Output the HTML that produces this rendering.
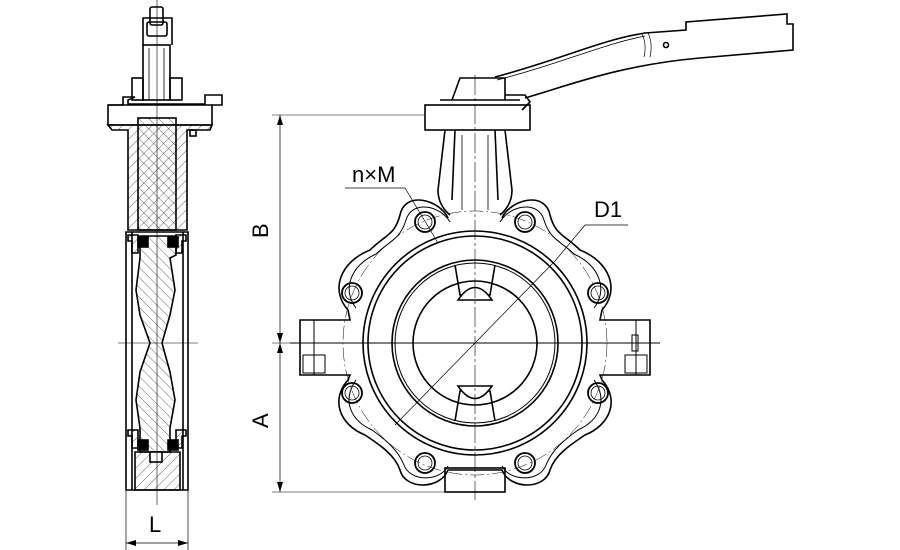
<!DOCTYPE html>
<html><head><meta charset="utf-8"><style>
html,body{margin:0;padding:0;background:#fff;width:900px;height:550px;overflow:hidden}
svg{display:block}
text{font-family:"Liberation Sans",sans-serif;fill:#000}
</style></head><body>
<svg width="900" height="550" viewBox="0 0 900 550" xmlns="http://www.w3.org/2000/svg">
<defs>
<pattern id="h" width="7" height="7" patternUnits="userSpaceOnUse" patternTransform="rotate(45)">
<line x1="0" y1="0" x2="0" y2="7" stroke="#000" stroke-width="0.6"/></pattern>
<pattern id="h2" width="7" height="7" patternUnits="userSpaceOnUse" patternTransform="rotate(-45)">
<line x1="0" y1="0" x2="0" y2="7" stroke="#000" stroke-width="0.6"/></pattern>
</defs>
<g fill="none" stroke="#000" stroke-width="1.6">
<!-- SIDE VIEW -->
<rect x="150" y="7" width="13" height="18" rx="2"/>
<path d="M143 45 V18 H172 V45"/>
<rect x="147" y="22" width="20" height="14" rx="2"/>
<rect x="143" y="45" width="27" height="55"/>
<line x1="149" y1="48" x2="149" y2="100" stroke-width="0.8"/>
<line x1="164" y1="48" x2="164" y2="100" stroke-width="0.8"/>
<rect x="132" y="78" width="11" height="22"/>
<rect x="170" y="78" width="12" height="22"/>
<path d="M108 125 V105 H123 V97 H135 L128 100 V104 H205 V95 H222 V105 H212 V125 Z"/>
<line x1="108" y1="105" x2="212" y2="105"/>
<path d="M108 125 H212 L210 130 H187 V230 H128 V130 H112 Z" fill="url(#h)"/>
<rect x="138" y="118" width="38" height="112" fill="url(#h2)"/>
<rect x="190" y="130" width="6" height="6"/>
<path d="M126 232 H188 V490 H126 Z"/>
<line x1="132" y1="232" x2="132" y2="490"/>
<line x1="183" y1="232" x2="183" y2="490"/>
<path d="M128 235 h10 v18 h-6 v-12 h-4z" fill="url(#h)"/>
<path d="M186 235 h-10 v18 h6 v-12 h4z" fill="url(#h)"/>
<rect x="138" y="237" width="10" height="10" fill="#000"/>
<rect x="168" y="237" width="10" height="10" fill="#000"/>
<path d="M140 236 H176 V255 L170 258 L175 290 L170 315 L162 343 L170 372 L175 400 L170 428 V452 H140 V428 L136 400 L140 372 L150 343 L140 315 L136 290 L140 258 Z" fill="url(#h2)"/>
<path d="M128 430 h10 v18 h-6 v-12 h-4z" fill="url(#h)"/>
<path d="M186 430 h-10 v18 h6 v-12 h4z" fill="url(#h)"/>
<rect x="138" y="440" width="10" height="10" fill="#000"/>
<rect x="168" y="440" width="10" height="10" fill="#000"/>
<path d="M135 452 H180 V490 H135 Z" fill="url(#h)"/>
<rect x="150" y="452" width="12" height="10" fill="#fff"/>
<line x1="157" y1="0" x2="157" y2="505" stroke-width="0.6"/>
<line x1="118" y1="343" x2="198" y2="343" stroke-width="0.6"/>
<!-- L dimension -->
<line x1="126" y1="490" x2="126" y2="550" stroke-width="0.7"/>
<line x1="188" y1="490" x2="188" y2="550" stroke-width="0.7"/>
<line x1="126" y1="543" x2="188" y2="543" stroke-width="0.7"/>
<path d="M126 543 l10 -3 v6z M188 543 l-10 -3 v6z" fill="#000" stroke="none"/>

<!-- FRONT VIEW -->
<!-- handle -->
<path d="M495 77 C560 60 600 40 645 33 L686 30 V22 L787 14 V24 L793 24 V50 L700 58 C620 65 570 85 525 98"/>
<path d="M497 80 C560 64 600 45 645 36" stroke-width="0.8"/>
<path d="M642 34 q5 10 2 23 M648 33 q5 10 2 24" stroke-width="0.7"/>
<circle cx="666" cy="45" r="2.5"/>
<path d="M452 100 L460 78 H505 V100"/>
<path d="M440 100 H520 M505 95 H525 L530 102 L522 110"/>
<rect x="425" y="105" width="105" height="25"/>
<!-- neck -->
<path d="M445 130 L438 190 Q438 205 450 215 M505 130 L512 190 Q512 205 500 215"/>
<path d="M455 130 L452 200 M495 130 L498 200"/>
<path d="M462 135 V210 M488 135 V210" stroke-width="0.8"/>
<!-- body lugs outline -->
<path d="M448 218 C440 200 405 190 400 215 C395 235 385 235 370 250 C340 262 330 290 348 310 L350 320 H300 V375 H350 L348 380 C330 400 340 425 365 435 C380 445 395 455 400 470 C405 490 440 490 448 470 H502 C510 490 545 490 550 470 C555 455 570 445 585 435 C610 425 620 400 602 380 L600 375 H650 V320 H600 L602 310 C620 290 610 262 580 250 C565 235 555 235 550 215 C545 190 510 200 502 218"/>
<path d="M450 222 C440 205 412 200 406 220 C400 240 388 242 376 254 C350 266 342 290 356 308 M356 380 C342 400 350 420 372 430 C386 440 398 450 404 465 C410 482 440 482 448 466 M502 466 C510 482 540 482 546 465 C552 450 564 440 578 430 C600 420 608 400 594 380 M594 308 C608 290 600 266 574 254 C562 242 550 240 544 220 C538 200 510 205 500 222" stroke-width="1"/>
<rect x="300" y="320" width="14" height="55" stroke-width="1"/>
<rect x="636" y="320" width="14" height="55" stroke-width="1"/>
<rect x="632" y="335" width="6" height="16" stroke-width="1"/>
<rect x="303" y="355" width="22" height="18" stroke-width="1"/>
<rect x="625" y="355" width="22" height="18" stroke-width="1"/>
<rect x="445" y="468" width="60" height="24"/>
<!-- bolt circle -->
<circle cx="475" cy="343" r="132" stroke-width="0.5" stroke-dasharray="14 3 2 3"/>
<!-- main rings -->
<circle cx="475" cy="343" r="112"/>
<circle cx="475" cy="343" r="107"/>
<circle cx="475" cy="343" r="83"/>
<circle cx="475" cy="343" r="80" stroke-width="1"/>
<circle cx="475" cy="343" r="62"/>
<!-- disc bosses -->
<path d="M455 265 L460 295 H490 L495 265"/>
<path d="M458 300 Q475 275 492 300 Z" fill="#fff"/>
<path d="M455 421 L460 391 H490 L495 421"/>
<path d="M458 386 Q475 411 492 386 Z" fill="#fff"/>
<!-- bolt holes -->
<g stroke-width="1.8">
<circle cx="425" cy="222" r="10"/><circle cx="525" cy="222" r="10"/>
<circle cx="352" cy="293" r="10"/><circle cx="598" cy="293" r="10"/>
<circle cx="352" cy="393" r="10"/><circle cx="598" cy="393" r="10"/>
<circle cx="425" cy="463" r="10"/><circle cx="525" cy="463" r="10"/>
</g>
<g stroke-width="0.8">
<circle cx="425" cy="222" r="7"/><circle cx="525" cy="222" r="7"/>
<circle cx="352" cy="293" r="7"/><circle cx="598" cy="293" r="7"/>
<circle cx="352" cy="393" r="7"/><circle cx="598" cy="393" r="7"/>
<circle cx="425" cy="463" r="7"/><circle cx="525" cy="463" r="7"/>
</g>
<!-- centerlines -->
<line x1="475" y1="75" x2="475" y2="500" stroke-width="0.6" stroke-dasharray="20 3 3 3"/>
<line x1="290" y1="343" x2="660" y2="343" stroke-width="1"/>
<line x1="395" y1="425" x2="555" y2="261" stroke-width="0.7"/>
<!-- leaders -->
<path d="M345 188 H405 L438 243" stroke-width="0.7"/>
<path d="M555 261 L585 225 H628" stroke-width="0.7"/>
<!-- A/B dimensions -->
<line x1="280" y1="115" x2="280" y2="492" stroke-width="0.7"/>
<line x1="272" y1="115" x2="425" y2="115" stroke-width="0.5"/>
<line x1="272" y1="343" x2="300" y2="343" stroke-width="0.5"/>
<line x1="272" y1="492" x2="445" y2="492" stroke-width="0.5"/>
</g>
<g fill="#000">
<path d="M280 115 l-3 10 h6z M280 343 l-3 -10 h6z M280 343 l-3 10 h6z M280 492 l-3 -10 h6z"/>
</g>
<text x="0" y="0" font-size="22" transform="translate(268 238) rotate(-90)">B</text>
<text x="0" y="0" font-size="22" transform="translate(268 428) rotate(-90)">A</text>
<text x="352" y="182" font-size="22">n×M</text>
<text x="594" y="217" font-size="22">D1</text>
<text x="149" y="532" font-size="22">L</text>
</svg>
</body></html>
